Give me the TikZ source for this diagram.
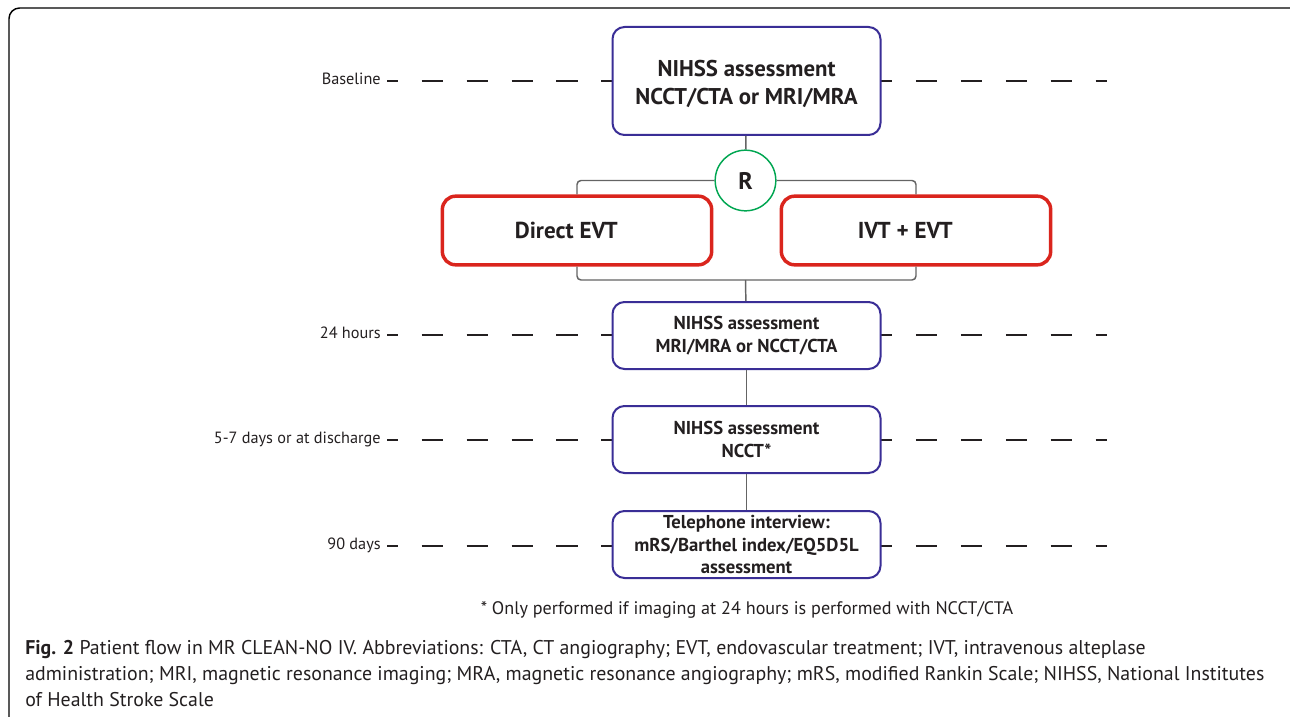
\documentclass[tikz,border=0pt]{standalone}
\usepackage{fontspec}
\setmainfont{PT Sans}
\usetikzlibrary{positioning}
\definecolor{ink}{RGB}{35,31,32}
\definecolor{boxblue}{RGB}{58,46,150}
\definecolor{armred}{RGB}{218,37,29}
\definecolor{rgreen}{RGB}{0,166,81}
\definecolor{linkgray}{RGB}{100,100,100}
\begin{document}
\begin{tikzpicture}[x=0.75pt,y=-0.75pt,
    stage/.style={draw=boxblue,line width=1.5pt,rounded corners=9pt,fill=white,text=ink,
      minimum width=201pt,minimum height=50.25pt,inner xsep=2pt,inner ysep=0pt,align=center,
      font=\bfseries\fontsize{14}{16.9}\selectfont},
    arm/.style={draw=armred,line width=2.6pt,rounded corners=10pt,fill=white,text=ink,
      minimum width=202pt,minimum height=51.5pt,font=\bfseries\fontsize{17.3}{20}\selectfont},
    rnd/.style={circle,draw=rgreen,line width=1.1pt,fill=white,text=ink,
      minimum size=45.5pt,inner sep=0pt,font=\bfseries\fontsize{18}{20}\selectfont},
    link/.style={draw=linkgray,line width=1.1pt,rounded corners=3pt},
    timelbl/.style={anchor=mid east,inner sep=0pt,text=ink,font=\fontsize{12.2}{14}\selectfont},
    guide/.style={draw=ink,line width=1.5pt,dash pattern=on 16.1pt off 17.6pt},
    tick/.style={draw=ink,line width=1.5pt}]

    \useasboundingbox (0,0) rectangle (1290,717);
    \draw[line width=1.1pt,rounded corners=8pt] (9,8) rectangle (1305,735);

    % time points
    \node[timelbl] (bl) at (381,81) {Baseline};
    \node[timelbl] (t24) at (381,335) {24 hours};
    \node[timelbl] (t57) at (381,440) {5-7 days or at discharge};
    \node[timelbl] (t90) at (381,546) {90 days};

    \coordinate (blend) at (1107,81);
    \coordinate (t24end) at (1107,335);
    \coordinate (t57end) at (1107,440);
    \coordinate (t90end) at (1107,546);

    \draw[tick] ([xshift=4.5pt]bl.mid east) -- ([xshift=13.1pt]bl.mid east);
    \draw[guide] ([xshift=30.5pt]bl.mid east) -- (blend);
    \draw[tick] ([xshift=4.5pt]t24.mid east) -- ([xshift=13.1pt]t24.mid east);
    \draw[guide] ([xshift=30.5pt]t24.mid east) -- (t24end);
    \draw[tick] ([xshift=4.5pt]t57.mid east) -- ([xshift=13.1pt]t57.mid east);
    \draw[guide] ([xshift=30.5pt]t57.mid east) -- (t57end);
    \draw[tick] ([xshift=4.5pt]t90.mid east) -- ([xshift=13.1pt]t90.mid east);
    \draw[guide] ([xshift=30.5pt]t90.mid east) -- (t90end);

    % flow
    \node[stage,minimum height=81pt,inner ysep=3pt,font=\bfseries\fontsize{17.1}{21}\selectfont] (base) at (746.5,81)
      {\rule{0pt}{17pt}NIHSS assessment\\NCCT/CTA or MRI/MRA};
    \node[rnd] (r) at (745.5,180.5) {R};
    \node[arm] (dir) at (577,230.5) {Direct EVT\hspace*{16pt}};
    \node[arm] (ivt) at (916,230.5) {IVT + EVT\hspace*{16pt}};
    \node[stage] (h24) at (746.5,335.5) {NIHSS assessment\\MRI/MRA or NCCT/CTA};
    \node[stage] (d57) at (746.5,439.5) {NIHSS assessment\\NCCT*};
    \node[stage] (d90) at (746.5,544.5) {Telephone interview:\\mRS/Barthel index/EQ5D5L\\assessment};

    \coordinate (mrg) at (745.5,280);
    \draw[link] (base) -- (r);
    \draw[link] (r.west) -| (dir.north);
    \draw[link] (r.east) -| (ivt.north);
    \draw[link] (dir.south) |- (mrg) -| (ivt.south);
    \draw[link] (mrg) -- (h24);
    \draw[link] (h24) -- (d57);
    \draw[link] (d57) -- (d90);

    \node[text=ink,inner sep=0pt,font=\fontsize{13.6}{15}\selectfont] (note) at (747,610) {* Only performed if imaging at 24 hours is performed with NCCT/CTA};

    \node[anchor=north west,inner sep=0pt,align=left,text=ink,font=\fontsize{14.9}{19.5}\selectfont] (cap) at (25,640)
      {\textbf{Fig. 2} Patient flow in MR CLEAN-NO IV. Abbreviations: CTA, CT angiography; EVT, endovascular treatment; IVT, intravenous alteplase\\
       administration; MRI, magnetic resonance imaging; MRA, magnetic resonance angiography; mRS, modified Rankin Scale; NIHSS, National Institutes\\
       of Health Stroke Scale};
\end{tikzpicture}
\end{document}
